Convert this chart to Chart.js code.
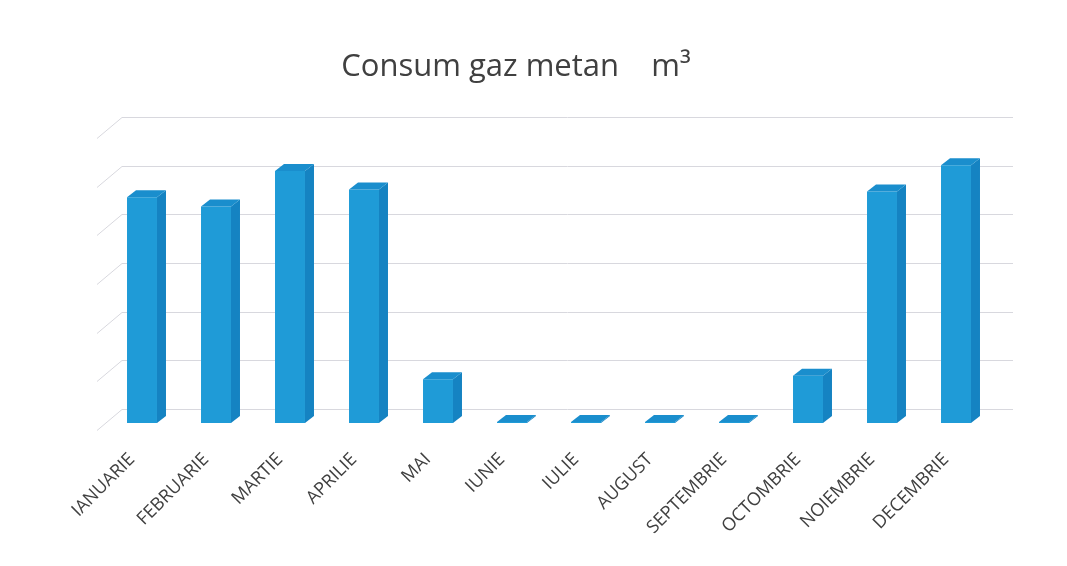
<!DOCTYPE html>
<html>
<head>
<meta charset="utf-8">
<script src="https://cdn.jsdelivr.net/npm/chart.js@4/dist/chart.umd.min.js"></script>
<style>
  html, body { margin: 0; padding: 0; background: #fff; }
  #wrap { width: 1067px; height: 566px; }
</style>
</head>
<body>
<div id="wrap"><canvas id="grafic"></canvas></div>
<script>
// luni si consum (m3), citite aproximativ din imagine
const luni = ['IANUARIE', 'FEBRUARIE', 'MARTIE', 'APRILIE', 'MAI', 'IUNIE', 'IULIE', 'AUGUST', 'SEPTEMBRIE', 'OCTOMBRIE', 'NOIEMBRIE', 'DECEMBRIE'];
const consum = [464, 445, 518, 480, 90, 2, 2, 2, 2, 97, 476, 530];
const liniiGrila = [0, 100, 200, 300, 400, 500, 600];

const culoareFata = '#1f9bd7';
const culoareLatura = '#1583c2';
const culoareSus = '#1a8ecd';
const adancimeX = 9, adancimeY = 7;

// grila "3D": linie in spate + diagonala in fata
const grila3d = {
    id: 'grila3d',
    beforeDatasetsDraw(chart) {
        const ctx = chart.ctx;
        const y = chart.scales.y;
        const a = chart.chartArea;
        ctx.save();
        ctx.strokeStyle = '#d8d8de';
        ctx.lineWidth = 1;
        liniiGrila.forEach(v => {
            const py = Math.round(y.getPixelForValue(v)) + 0.5;
            ctx.beginPath();
            ctx.moveTo(a.left - 8, py + 7);
            ctx.lineTo(a.left + 17, py - 14);
            ctx.lineTo(a.right + 20, py - 14);
            ctx.stroke();
        });
        ctx.restore();
    }
};

// fetele de sus si laterale ale coloanelor
const coloane3d = {
    id: 'coloane3d',
    afterDatasetsDraw(chart) {
        const ctx = chart.ctx;
        const meta = chart.getDatasetMeta(0);
        ctx.save();
        meta.data.forEach(bar => {
            const w = bar.width;
            const x0 = bar.x - w / 2, x1 = bar.x + w / 2;
            const top = bar.y, baza = bar.base;
            ctx.fillStyle = culoareLatura;
            ctx.beginPath();
            ctx.moveTo(x1, top);
            ctx.lineTo(x1 + adancimeX, top - adancimeY);
            ctx.lineTo(x1 + adancimeX, baza - adancimeY);
            ctx.lineTo(x1, baza);
            ctx.closePath();
            ctx.fill();
            ctx.fillStyle = culoareSus;
            ctx.beginPath();
            ctx.moveTo(x0, top);
            ctx.lineTo(x0 + adancimeX, top - adancimeY);
            ctx.lineTo(x1 + adancimeX, top - adancimeY);
            ctx.lineTo(x1, top);
            ctx.closePath();
            ctx.fill();
        });
        ctx.restore();
    }
};

new Chart(document.getElementById('grafic'), {
    type: 'bar',
    data: {
        labels: luni,
        datasets: [{
            label: 'Consum',
            data: consum,
            backgroundColor: culoareFata,
            borderWidth: 0,
            categoryPercentage: 1,
            barPercentage: 0.405
        }]
    },
    options: {
        responsive: true,
        maintainAspectRatio: false,
        animation: false,
        layout: { padding: { left: 0, right: 35, top: 0, bottom: 0 } },
        plugins: {
            legend: { display: false },
            tooltip: { enabled: false },
            title: {
                display: true,
                text: 'Consum gaz metan    m³',
                color: '#404040',
                font: { family: 'Open Sans', size: 31, weight: 'normal' },
                padding: { top: 49, bottom: 45 }
            }
        },
        scales: {
            y: {
                min: 0,
                max: 600,
                grid: { display: false },
                border: { display: false },
                ticks: { display: false },
                afterFit(scale) { scale.width = 105; }
            },
            dreapta: {
                position: 'right',
                min: 0,
                max: 600,
                grid: { display: false },
                border: { display: false },
                ticks: { display: false },
                afterFit(scale) { scale.width = 39; }
            },
            x: {
                grid: { display: false },
                border: { display: false },
                ticks: {
                    color: '#404040',
                    font: { family: 'Open Sans', size: 18 },
                    maxRotation: 45,
                    minRotation: 45,
                    padding: 18,
                    labelOffset: -10
                },
                afterFit(scale) { scale.height = 143; }
            }
        }
    },
    plugins: [grila3d, coloane3d]
});
</script>
</body>
</html>
